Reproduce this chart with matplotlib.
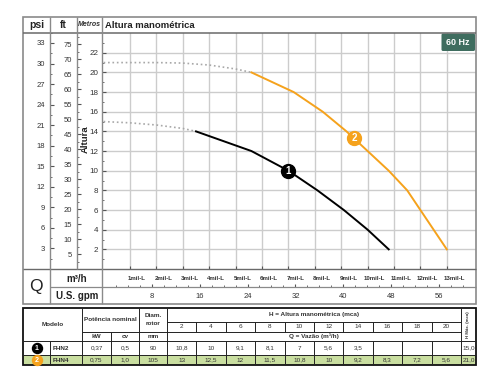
import numpy as np
import matplotlib
matplotlib.use('Agg')
import matplotlib.pyplot as plt
from matplotlib.patches import Rectangle, FancyBboxPatch

plt.rcParams['font.family'] = ['Liberation Sans', 'DejaVu Sans']

# --- data -------------------------------------------------------------
h_points = [2, 4, 6, 8, 10, 12, 14, 16, 18, 20]              # H (mca)
q_fhn2 = [10.8, 10, 9.1, 8.1, 7, 5.6, 3.5, None, None, None]   # Q (m3/h)
q_fhn4 = [13, 12.5, 12, 11.5, 10.8, 10, 9.2, 8.3, 7.2, 5.6]
h_max = [15.0, 21.0]

# dotted (shut-off) part of the curves
q_fhn2_dot = [0, 1, 2, 3, 3.5]
h_fhn2_dot = [15.0, 14.87, 14.65, 14.3, 14.0]
q_fhn4_dot = [0, 1, 2, 3, 4, 5, 5.6]
h_fhn4_dot = [21.0, 21.0, 21.0, 20.95, 20.75, 20.35, 20.0]

models = ['FHN2', 'FHN4']
power_kw = ['0,37', '0,75']
power_cv = ['0,5', '1,0']
rotor_mm = ['90', '105']
tags = ['1', '2']
tag_q = [7.0, 9.5]
tag_h = [10.0, 13.3]

m_ticks = list(range(2, 23, 2))
psi_ticks = list(range(3, 34, 3))
ft_ticks = list(range(5, 76, 5))
q_ticks = list(range(1, 14))
gpm_ticks = list(range(8, 57, 8))

ORANGE = '#f5a21c'
GREEN_ROW = '#c9dea0'
FRAME = '#8a8a8a'
TXT = '#333333'

FW, FH = 500, 384
def fx(px): return px / FW
def fy(py): return 1 - py / FH

fig = plt.figure(figsize=(5, 3.84), dpi=100)

# plot area in pixels
X0, X1, Y0, Y1 = 102, 476, 269, 32.7
px_per_q = 26.4
px_per_m = (Y0 - Y1) / 24.04
xmin = -(103.6 - X0) / px_per_q
xmax = xmin + (X1 - X0) / px_per_q
ymax = (Y0 - Y1) / px_per_m

ax = fig.add_axes([fx(X0), fy(Y0), (X1 - X0) / FW, (Y0 - Y1) / FH])
ax.set_xlim(xmin, xmax)
ax.set_ylim(0, ymax)
ax.set_xticks(q_ticks)
ax.set_xticklabels([])
ax.set_yticks(m_ticks)
ax.set_yticks(range(1, 24, 2), minor=True)
ax.grid(True, color='#cccccc', linewidth=1.0)
ax.set_axisbelow(True)
for s in ax.spines.values():
    s.set_visible(False)
ax.tick_params(axis='y', which='major', direction='in', length=2.8, width=0.8,
               pad=2.8, labelsize=5.8, colors='#555', labelcolor=TXT)
ax.tick_params(axis='y', which='minor', direction='in', length=1.5, width=0.6, colors='#555')
ax.tick_params(axis='x', which='major', direction='in', length=2.5, width=0.8, colors='#555')

# curves
q2 = [q for q in q_fhn2 if q is not None]
h2 = [h for q, h in zip(q_fhn2, h_points) if q is not None]
ax.plot(q_fhn2_dot, h_fhn2_dot, color='#a8a8a8', linestyle=':', linewidth=1.2)
ax.plot(q_fhn4_dot, h_fhn4_dot, color='#a8a8a8', linestyle=':', linewidth=1.2)
ax.plot(q2, h2, color='black', linewidth=1.4)
ax.plot(q_fhn4, h_points, color=ORANGE, linewidth=1.4)
for t, q, h, c in zip(tags, tag_q, tag_h, ['black', ORANGE]):
    ax.plot(q, h, 'o', color=c, markersize=10, zorder=5)
    ax.text(q, h, t, color='white', fontsize=7, fontweight='bold',
            ha='center', va='center', zorder=6)

# m3/h labels under the plot
for q in q_ticks:
    ax.text(q + 0.27, (Y0 - 278) / (Y0 - Y1), f'{q}mil-L', transform=ax.get_xaxis_transform(),
            fontsize=4.4, fontweight='bold', color=TXT, ha='center', va='center')

# psi and ft scales
for left, width, factor, ticks, step in [(50, 27, 1.4223, psi_ticks, 3), (77, 25, 3.2808, ft_ticks, 5)]:
    a = fig.add_axes([fx(left), fy(Y0), width / FW, (Y0 - Y1) / FH])
    a.set_ylim(0, ymax * factor)
    a.set_xticks([])
    a.set_yticks(ticks)
    a.set_yticks([v - step / 2 for v in ticks] + [ticks[-1] + step / 2], minor=True)
    a.patch.set_visible(False)
    for s in a.spines.values():
        s.set_visible(False)
    a.tick_params(axis='y', which='major', direction='in', length=2.6, width=0.8,
                  pad=3.6, labelsize=5.5, colors='#555', labelcolor=TXT)
    a.tick_params(axis='y', which='minor', direction='in', length=1.4, width=0.6, colors='#555')

# U.S. gpm scale
ag = fig.add_axes([fx(X0), fy(304), (X1 - X0) / FW, (304 - 287) / FH])
ag.set_xlim(xmin * 4.4029, xmax * 4.4029)
ag.set_ylim(0, 1)
ag.set_yticks([])
ag.set_xticks(gpm_ticks)
ag.set_xticks(range(2, 62, 2), minor=True)
ag.set_xticklabels([])
ag.patch.set_visible(False)
for s in ag.spines.values():
    s.set_visible(False)
ag.tick_params(axis='x', which='both', bottom=False, top=True, direction='out',
               colors='#555')
ag.tick_params(axis='x', which='major', length=2.5, width=0.8)
ag.tick_params(axis='x', which='minor', length=1.3, width=0.6)
for g in gpm_ticks:
    ag.text(g, 0.47, str(g), fontsize=5.5, color=TXT, ha='center', va='center')

# --- frame, headers and table (pixel overlay) ---------------------------
ov = fig.add_axes([0, 0, 1, 1])
ov.set_xlim(0, FW)
ov.set_ylim(FH, 0)
ov.axis('off')
ov.set_zorder(4)

def hline(y, xa, xb, c=FRAME, lw=1.0):
    ov.plot([xa, xb], [y, y], color=c, linewidth=lw, solid_capstyle='butt')

def vline(x, ya, yb, c=FRAME, lw=1.0):
    ov.plot([x, x], [ya, yb], color=c, linewidth=lw, solid_capstyle='butt')

ov.add_patch(Rectangle((23, 17), 453, 287, fill=False, edgecolor=FRAME, linewidth=1.2))
hline(Y1, 23, 476, c='#6a6a6a', lw=1.1)
hline(Y0, 23, 476, c='#6a6a6a', lw=1.0)
hline(287, 50, 476, c=FRAME, lw=0.9)
vline(50, 17, 304)
vline(77, 17, Y0)
vline(102, 17, 304)

ov.text(36.5, 25, 'psi', fontsize=7.5, fontweight='bold', ha='center', va='center', color='#222')
ov.text(63.5, 25, 'ft', fontsize=7.5, fontweight='bold', ha='center', va='center', color='#222')
ov.text(89.5, 25, 'Metros', fontsize=5.0, fontweight='bold', style='italic', ha='center',
        va='center', color=TXT)
ov.text(105, 25.5, 'Altura manométrica', fontsize=6.8, fontweight='bold', ha='left',
        va='center', color='#222')
ov.text(85.5, 139, 'Altura', fontsize=6.8, fontweight='bold', rotation=90, ha='center',
        va='center', color='#222')
ov.text(36, 287, 'Q', fontsize=12.5, ha='center', va='center', color='#222')
ov.text(77, 278.5, 'm³/h', fontsize=7, fontweight='bold', ha='center', va='center', color='#222')
ov.text(77, 296, 'U.S. gpm', fontsize=7, fontweight='bold', ha='center', va='center', color='#222')

ov.add_patch(FancyBboxPatch((441.5, 33.5), 33.5, 17.5, boxstyle='round,pad=0,rounding_size=1.5',
                            facecolor='#3f6d5f', edgecolor='none'))
ov.text(458.2, 42.3, '60 Hz', fontsize=6.4, fontweight='bold', color='white', ha='center', va='center')

# table
T0, T1, T2, T3, R1, R2 = 308, 321.7, 331.7, 341, 355, 365
cols = [23, 50, 82, 111, 139, 167]
hx = [167 + i * 29.4 for i in range(len(h_points) + 1)]
TR = 476
ov.add_patch(Rectangle((23, R1), TR - 23, R2 - R1, facecolor=GREEN_ROW, edgecolor='none'))
LC, LW = '#222', 0.7
hline(T1, hx[0], hx[-1], LC, LW)
hline(T2, cols[2], hx[-1], LC, LW)
hline(T3, 23, TR, LC, LW)
hline(R1, 23, TR, LC, LW)
vline(cols[1], T3, R2, LC, LW)
vline(cols[2], T0, R2, LC, LW)
vline(cols[3], T2, R2, LC, LW)
vline(cols[4], T0, R2, LC, LW)
vline(cols[5], T0, R2, LC, LW)
for x in hx[1:-1]:
    vline(x, T1, T2, LC, LW)
    vline(x, T3, R2, LC, LW)
vline(hx[-1], T0, R2, LC, LW)
ov.add_patch(Rectangle((23, T0), TR - 23, R2 - T0, fill=False, edgecolor='#111', linewidth=1.3))

fs = 4.6
ov.text((23 + 82) / 2, (T0 + T3) / 2, 'Modelo', fontsize=fs, fontweight='bold', ha='center', va='center', color=TXT)
ov.text((82 + 139) / 2, (T0 + T2) / 2, 'Potência nominal', fontsize=fs, fontweight='bold', ha='center', va='center', color=TXT)
ov.text((139 + 167) / 2, (T0 + T2) / 2, 'Diam.\nrotor', fontsize=fs, fontweight='bold', ha='center', va='center',
        color=TXT, linespacing=1.7)
for x0, x1, s in [(82, 111, 'kW'), (111, 139, 'cv'), (139, 167, 'mm')]:
    ov.text((x0 + x1) / 2, (T2 + T3) / 2, s, fontsize=fs, fontweight='bold', ha='center', va='center', color=TXT)
ov.text((hx[0] + hx[-1]) / 2, (T0 + T1) / 2, 'H = Altura manométrica (mca)', fontsize=fs, fontweight='bold',
        ha='center', va='center', color=TXT)
ov.text((hx[0] + hx[-1]) / 2, (T2 + T3) / 2, 'Q = Vazão (m³/h)', fontsize=fs, fontweight='bold',
        ha='center', va='center', color=TXT)
for i, h in enumerate(h_points):
    ov.text((hx[i] + hx[i + 1]) / 2, (T1 + T2) / 2, str(h), fontsize=fs, ha='center', va='center', color=TXT)
ov.text((hx[-1] + TR) / 2, (T0 + T3) / 2, 'H Máx. (mca)', fontsize=3.2, fontweight='bold', rotation=90,
        ha='center', va='center', color=TXT)

def fmt(v):
    return '' if v is None else f'{v:g}'.replace('.', ',')

rows_y = [(T3 + R1) / 2, (R1 + R2) / 2]
for r, (yc, qrow, c) in enumerate(zip(rows_y, [q_fhn2, q_fhn4], ['black', ORANGE])):
    ov.plot(36.5, yc, 'o', color=c, markersize=7.2)
    ov.text(36.5, yc, tags[r], color='white', fontsize=5, fontweight='bold', ha='center', va='center')
    ov.text(53, yc, models[r], fontsize=fs, fontweight='bold', ha='left', va='center', color=TXT)
    for x0, x1, s in [(82, 111, power_kw[r]), (111, 139, power_cv[r]), (139, 167, rotor_mm[r])]:
        ov.text((x0 + x1) / 2, yc, s, fontsize=fs, ha='center', va='center', color=TXT)
    for i, v in enumerate(qrow):
        ov.text((hx[i] + hx[i + 1]) / 2, yc, fmt(v), fontsize=fs, ha='center', va='center', color=TXT)
    ov.text((hx[-1] + TR) / 2, yc, f'{h_max[r]:.1f}'.replace('.', ','), fontsize=fs, ha='center',
            va='center', color=TXT)

fig.savefig('out.png', dpi=100)
